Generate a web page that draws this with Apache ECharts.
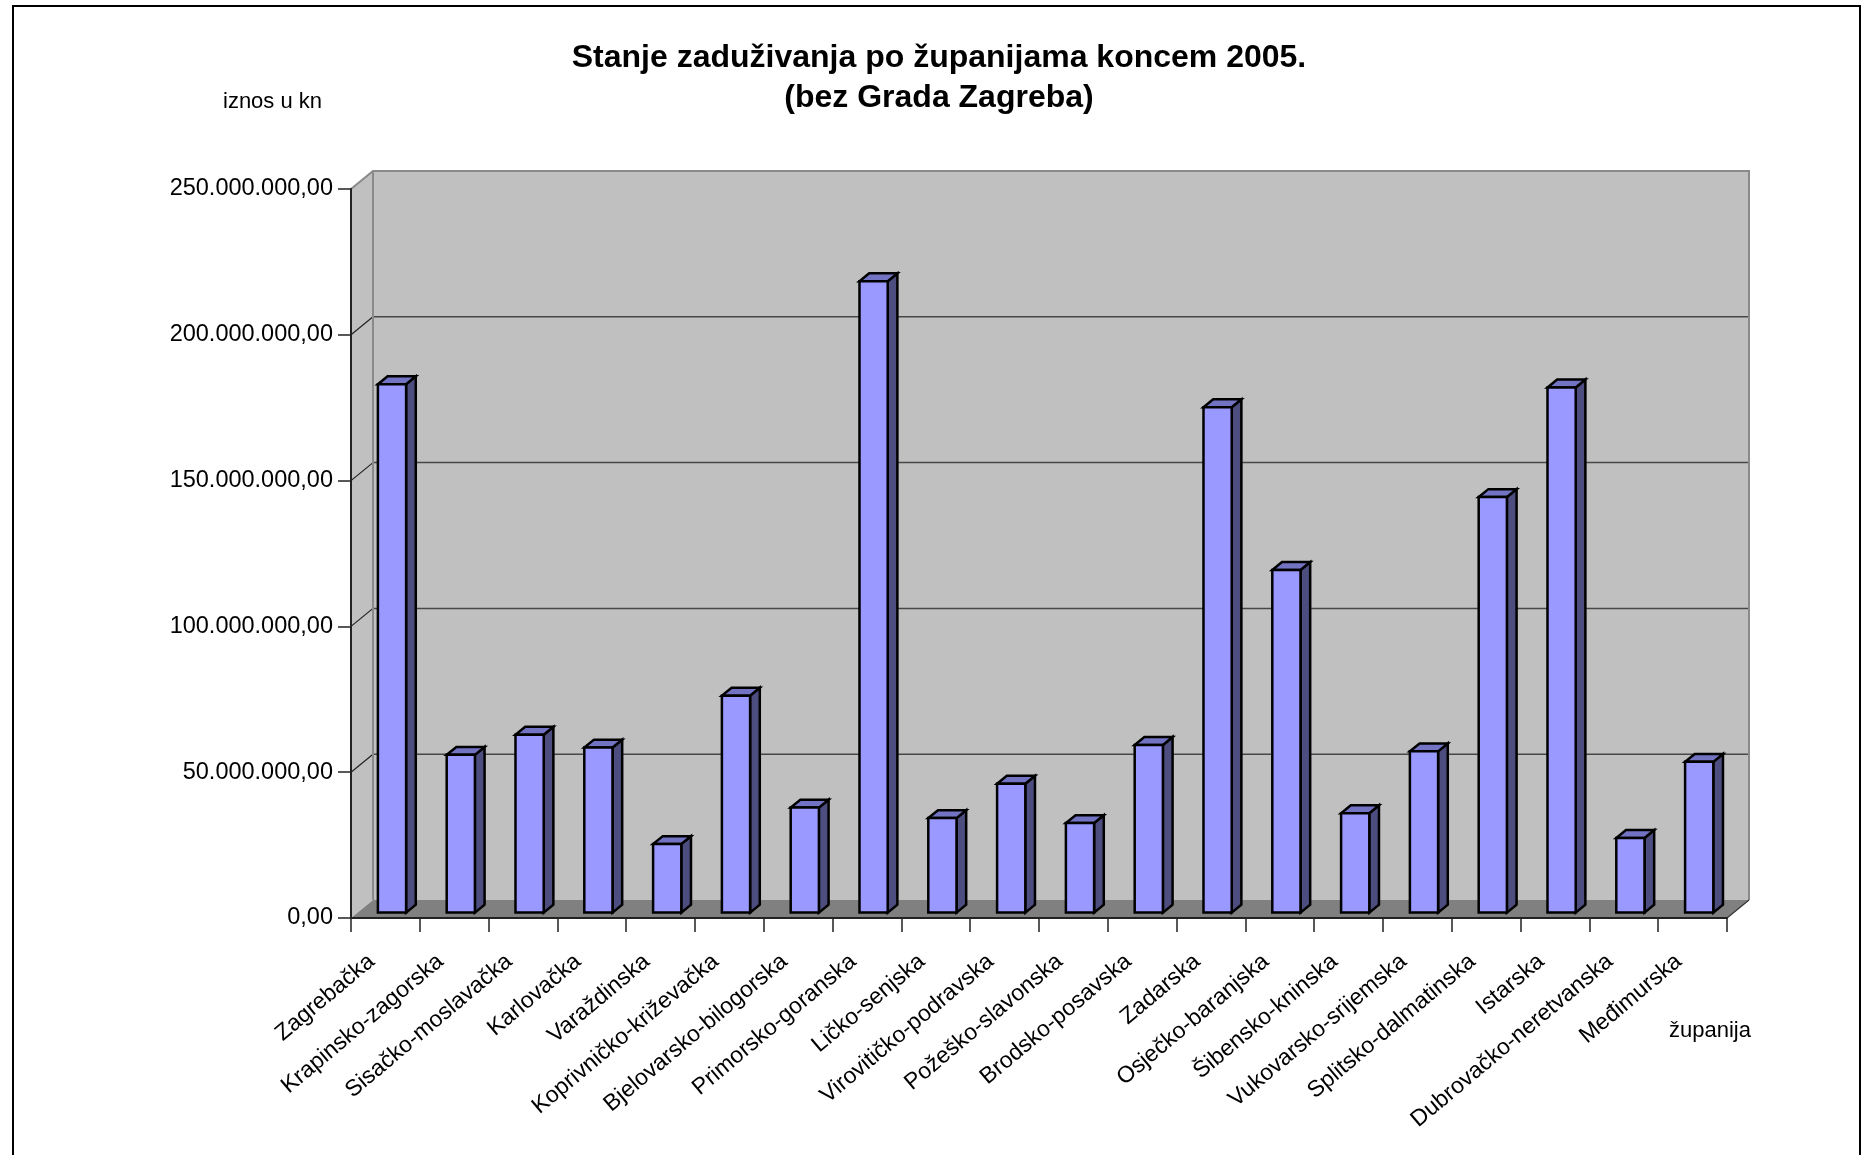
<!DOCTYPE html>
<html>
<head>
<meta charset="utf-8">
<title>Stanje zaduživanja po županijama koncem 2005.</title>
<script src="https://cdn.jsdelivr.net/npm/echarts@6/dist/echarts.min.js"></script>
<style>
  html, body { margin: 0; padding: 0; background: #fff; }
  #chart { width: 1872px; height: 1155px; }
</style>
</head>
<body>
<div id="chart"></div>
<script>
// Counties (without the City of Zagreb)
const counties = [
  'Zagrebačka', 'Krapinsko-zagorska', 'Sisačko-moslavačka', 'Karlovačka',
  'Varaždinska', 'Koprivničko-križevačka', 'Bjelovarsko-bilogorska',
  'Primorsko-goranska', 'Ličko-senjska', 'Virovitičko-podravska',
  'Požeško-slavonska', 'Brodsko-posavska', 'Zadarska', 'Osječko-baranjska',
  'Šibensko-kninska', 'Vukovarsko-srijemska', 'Splitsko-dalmatinska',
  'Istarska', 'Dubrovačko-neretvanska', 'Međimurska'
];

// Debt at the end of 2005, in kuna
const debt = [
  181200000, 54100000, 61000000, 56600000,
  23500000, 74400000, 36000000,
  216500000, 32400000, 44200000,
  30700000, 57500000, 173300000, 117500000,
  34100000, 55300000, 142500000,
  180100000, 25600000, 51700000
];

// Value axis ticks
const valueTicks = [0, 50000000, 100000000, 150000000, 200000000, 250000000];

const FONT = '"Liberation Sans", Arial, sans-serif';

// Oblique depth of the 3D box (pixels right / up)
const DX = 22, DY = 18;
// Bar depth placement (fractions of the box depth) and width (fraction of category)
const BAR_FRONT = 0.3, BAR_BACK = 0.74, BAR_W = 0.41;

function formatKn(v) {
  const s = Math.round(v).toString().replace(/\B(?=(\d{3})+(?!\d))/g, '.');
  return s + ',00';
}

const chart = echarts.init(document.getElementById('chart'), null, { renderer: 'canvas' });

// Walls, floor and grid lines of the 3D box
function renderBox(params, api) {
  const cs = params.coordSys;
  const L = cs.x, R = cs.x + cs.width, T = cs.y, B = cs.y + cs.height;
  const children = [];
  // left side wall
  children.push({
    type: 'polygon',
    shape: { points: [[L, T], [L + DX, T - DY], [L + DX, B - DY], [L, B]] },
    style: { fill: '#c0c0c0', stroke: null }
  });
  // back wall
  children.push({
    type: 'rect',
    shape: { x: L + DX, y: T - DY, width: R - L, height: B - T },
    style: { fill: '#c0c0c0', stroke: null }
  });
  // floor
  children.push({
    type: 'polygon',
    shape: { points: [[L, B], [R, B], [R + DX, B - DY], [L + DX, B - DY]] },
    style: { fill: '#808080', stroke: null }
  });
  // grid lines on back wall and side wall
  valueTicks.forEach(function (v) {
    if (v === 0 || v === valueTicks[valueTicks.length - 1]) return;
    const y = api.coord([0, v])[1];
    children.push({
      type: 'line',
      shape: { x1: L + DX, y1: y - DY, x2: R + DX, y2: y - DY },
      style: { stroke: '#474747', lineWidth: 1.5 }
    });
    children.push({
      type: 'line',
      shape: { x1: L, y1: y, x2: L + DX, y2: y - DY },
      style: { stroke: '#222', lineWidth: 1.2 }
    });
  });
  // box edges
  children.push({
    type: 'polyline',
    shape: { points: [[L, T], [L + DX, T - DY], [R + DX, T - DY], [R + DX, B - DY]] },
    style: { stroke: '#8a8a8a', lineWidth: 2, fill: null }
  });
  children.push({
    type: 'line',
    shape: { x1: L + DX, y1: T - DY, x2: L + DX, y2: B - DY },
    style: { stroke: '#8a8a8a', lineWidth: 2 }
  });
  children.push({
    type: 'line',
    shape: { x1: R, y1: B, x2: R + DX, y2: B - DY },
    style: { stroke: '#333', lineWidth: 1.2 }
  });
  return { type: 'group', children: children };
}

// One 3D bar: front, top and right side faces
function renderBar(params, api) {
  const idx = api.value(0);
  const val = api.value(1);
  const base = api.coord([idx, 0]);
  const top = api.coord([idx, val]);
  const cw = api.size([1, 0])[0];
  const w = cw * BAR_W;
  const fx = BAR_FRONT * DX, fy = BAR_FRONT * DY;
  const ddx = (BAR_BACK - BAR_FRONT) * DX, ddy = (BAR_BACK - BAR_FRONT) * DY;
  const x1 = base[0] - w / 2 + fx, x2 = x1 + w;
  const yT = top[1] - fy, yB = base[1] - fy;
  const edge = { stroke: '#000', lineWidth: 2.5, lineJoin: 'miter' };
  return {
    type: 'group',
    children: [
      {
        type: 'polygon',
        shape: { points: [[x2, yT], [x2 + ddx, yT - ddy], [x2 + ddx, yB - ddy], [x2, yB]] },
        style: Object.assign({ fill: '#4d4d80' }, edge)
      },
      {
        type: 'polygon',
        shape: { points: [[x1, yT], [x2, yT], [x2 + ddx, yT - ddy], [x1 + ddx, yT - ddy]] },
        style: Object.assign({ fill: '#7373c4' }, edge)
      },
      {
        type: 'rect',
        shape: { x: x1, y: yT, width: w, height: yB - yT },
        style: Object.assign({ fill: '#9999ff' }, edge)
      }
    ]
  };
}

const option = {
  backgroundColor: '#ffffff',
  animation: false,
  title: {
    text: 'Stanje zaduživanja po županijama koncem 2005.\n(bez Grada Zagreba)',
    left: 934,
    top: 33,
    textAlign: 'center',
    textStyle: {
      fontFamily: FONT, fontSize: 32, fontWeight: 'bold', color: '#000', lineHeight: 40
    }
  },
  grid: { left: 351, right: 145, top: 189, bottom: 237, containLabel: false },
  xAxis: {
    type: 'category',
    data: counties,
    boundaryGap: true,
    z: 5,
    axisLine: { show: true, lineStyle: { color: '#222', width: 2 } },
    axisTick: { show: true, length: 14, alignWithLabel: false, lineStyle: { color: '#222', width: 1.5 } },
    axisLabel: {
      interval: 0, rotate: 40, margin: 29,
      padding: [0, 18, 0, 0],
      fontFamily: FONT, fontSize: 23, color: '#000'
    },
    splitLine: { show: false }
  },
  yAxis: {
    type: 'value',
    min: valueTicks[0],
    max: valueTicks[valueTicks.length - 1],
    interval: valueTicks[1] - valueTicks[0],
    z: 5,
    axisLine: { show: true, lineStyle: { color: '#222', width: 2 } },
    axisTick: { show: true, length: 13, lineStyle: { color: '#222', width: 1.5 } },
    axisLabel: {
      margin: 18, formatter: formatKn,
      fontFamily: FONT, fontSize: 23.5, color: '#000'
    },
    splitLine: { show: false }
  },
  graphic: [
    {
      type: 'rect', z: 0, silent: true,
      shape: { x: 13, y: 6, width: 1847, height: 1200 },
      style: { fill: null, stroke: '#000', lineWidth: 2 }
    },
    {
      type: 'text', left: 223, top: 91,
      style: { text: 'iznos u kn', font: '22px ' + FONT, fill: '#000' }
    },
    {
      type: 'text', left: 1669, top: 1020,
      style: { text: 'županija', font: '22px ' + FONT, fill: '#000' }
    }
  ],
  series: [
    {
      type: 'custom',
      z: 1,
      silent: true,
      renderItem: renderBox,
      data: [[0, 0]],
      encode: { x: 0, y: 1 }
    },
    {
      type: 'custom',
      z: 3,
      renderItem: renderBar,
      data: debt.map(function (v, i) { return [i, v]; }),
      encode: { x: 0, y: 1 }
    }
  ]
};

chart.setOption(option);
</script>
</body>
</html>
